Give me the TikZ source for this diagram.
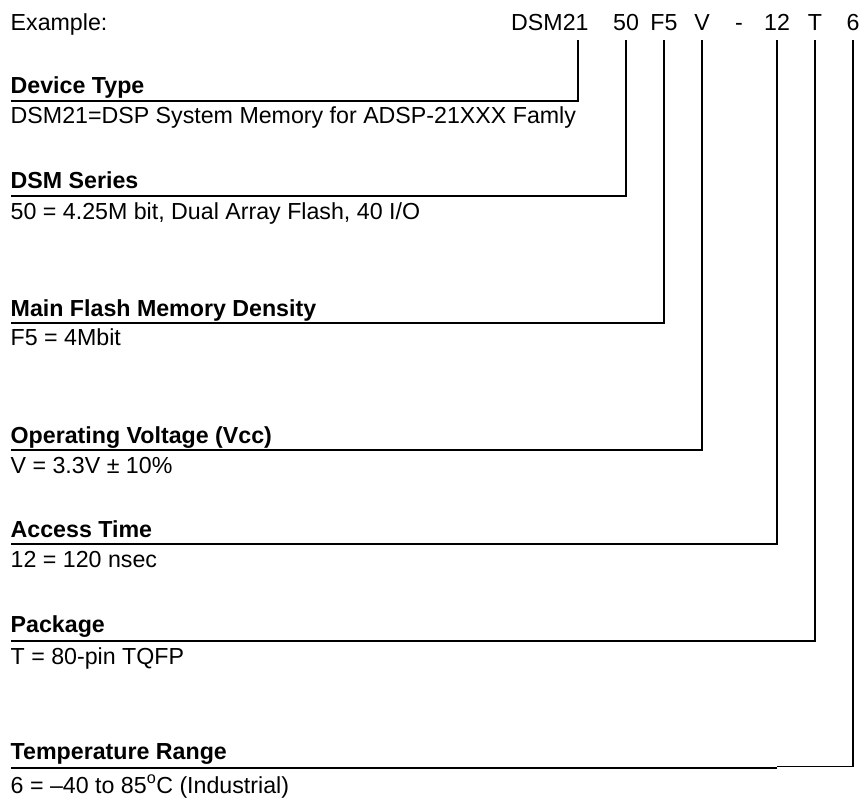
\documentclass[tikz,border=0pt]{standalone}
\usepackage{fontspec}
\setmainfont{Liberation Sans}
\begin{document}
\begin{tikzpicture}[x=1pt,y=-1pt,
  txt/.style={inner sep=0pt, anchor=base west, font=\fontsize{23.2}{28}\selectfont},
  head/.style={inner sep=0pt, anchor=base west, font=\fontsize{23.2}{28}\selectfont\bfseries},
  code/.style={inner sep=0pt, anchor=base, font=\fontsize{23.2}{28}\selectfont},
  lead/.style={line width=1.5pt}]
\useasboundingbox (0,0) rectangle (861,801);

% example code
\node[txt] (ex) at (10.5,30) {Example:};
\node[code, anchor=base west] (c1) at (511,30) {DSM21};
\node[code] (c2) at (626,30) {50};
\node[code] (c3) at (664,30) {F5};
\node[code] (c4) at (702,30) {V};
\node[code] (c5) at (739,30) {-};
\node[code] (c6) at (777,30) {12};
\node[code] (c7) at (815,30) {T};
\node[code] (c8) at (853,30) {6};

% tops of the leaders
\coordinate (v1) at (578,40);
\coordinate (v2) at (c2.center |- 0,40);
\coordinate (v3) at (c3.center |- 0,40);
\coordinate (v4) at (c4.center |- 0,40);
\coordinate (v6) at (c6.center |- 0,40);
\coordinate (v7) at (c7.center |- 0,40);
\coordinate (v8) at (c8.center |- 0,40);

% left ends of the leaders
\coordinate (e1) at (11,101);
\coordinate (e2) at (11,196);
\coordinate (e3) at (11,323);
\coordinate (e4) at (11,450);
\coordinate (e6) at (11,544);
\coordinate (e7) at (11,641);
\coordinate (e8) at (11,768);
\coordinate (k8) at (777,766.5);
\coordinate (k8b) at (777,768);

% headings and descriptions
\node[head] (h1) at (10.5,93) {Device Type};
\node[txt]  (d1) at (10.5,123) {DSM21=DSP System Memory for ADSP-21XXX Famly};
\node[head] (h2) at (10.5,188) {DSM Series};
\node[txt]  (d2) at (10.5,219) {50 = 4.25M bit, Dual Array Flash, 40 I/O};
\node[head] (h3) at (10.5,316) {Main Flash Memory Density};
\node[txt]  (d3) at (10.5,345) {F5 = 4Mbit};
\node[head] (h4) at (10.5,443) {Operating Voltage (Vcc)};
\node[txt]  (d4) at (10.5,473) {V = 3.3V ± 10\%};
\node[head] (h6) at (10.5,537) {Access Time};
\node[txt]  (d6) at (10.5,567) {12 = 120 nsec};
\node[head] (h7) at (10.5,632) {Package};
\node[txt]  (d7) at (10.5,664) {T = 80-pin TQFP};
\node[head] (h8) at (10.5,759) {Temperature Range};
\node[txt]  (d8) at (10.5,793) {6 = –40 to 85\textsuperscript{o}C (Industrial)};

% leaders
\draw[lead] (v1) |- (e1);
\draw[lead] (v2) |- (e2);
\draw[lead] (v3) |- (e3);
\draw[lead] (v4) |- (e4);
\draw[lead] (v6) |- (e6);
\draw[lead] (v7) |- (e7);
\draw[lead] (v8) |- (k8);
\draw[lead] (k8b) -- (e8);
\end{tikzpicture}
\end{document}
